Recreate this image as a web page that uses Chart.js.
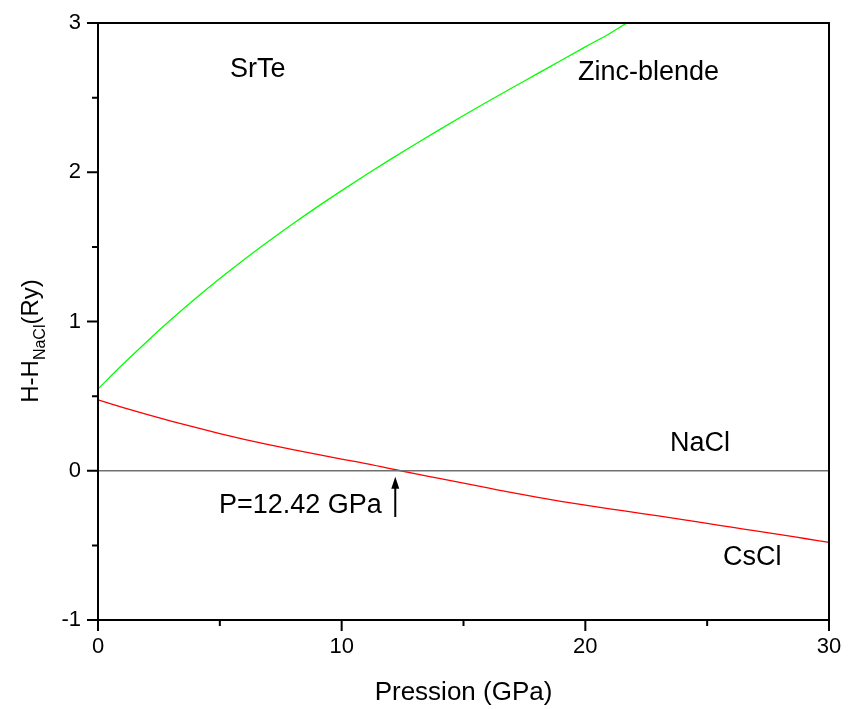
<!DOCTYPE html>
<html>
<head>
<meta charset="utf-8">
<script src="https://cdn.jsdelivr.net/npm/chart.js@4/dist/chart.umd.min.js"></script>
<style>
  html, body { margin: 0; padding: 0; background: #fff; }
  #wrap { width: 848px; height: 709px; }
</style>
</head>
<body>
<div id="wrap"><canvas id="chart" width="848" height="709"></canvas></div>
<script>
// data
const zbPress = [0, 1, 2, 3, 4, 5, 6, 7, 8, 9, 10, 11, 12, 13, 14, 15, 16, 17, 18, 19, 20, 21, 21.7];
const zbDelta = [0.548, 0.71, 0.865, 1.013, 1.154, 1.288, 1.416, 1.538, 1.655, 1.768, 1.877, 1.983, 2.086, 2.186, 2.284, 2.38, 2.474, 2.566, 2.657, 2.749, 2.84, 2.93, 3.0];

const cscPress = [0, 1, 2, 3, 4, 5, 6, 7, 8, 9, 10, 11, 12, 12.42, 13, 14, 15, 16, 17, 18, 19, 20, 21, 22, 23, 24, 25, 26, 27, 28, 29, 30];
const cscDelta = [0.475, 0.425, 0.378, 0.333, 0.29, 0.249, 0.211, 0.175, 0.141, 0.109, 0.078, 0.048, 0.014, 0, -0.019, -0.051, -0.083, -0.115, -0.147, -0.177, -0.205, -0.23, -0.255, -0.279, -0.303, -0.328, -0.353, -0.378, -0.403, -0.428, -0.454, -0.48];

const naclPress = [0, 30];
const naclDelta = [0, 0];

const xMajor = [0, 10, 20, 30];
const xMinor = [5, 15, 25];
const yMajor = [-1, 0, 1, 2, 3];
const yMinor = [-0.5, 0.5, 1.5, 2.5];

// text labels in data coordinates (anchor, vertical middle)
const notes = [
  { text: "SrTe", x: 5.42, y: 2.685, align: "left" },
  { text: "Zinc-blende", x: 19.7, y: 2.67, align: "left" },
  { text: "NaCl", x: 23.47, y: 0.18, align: "left" },
  { text: "P=12.42 GPa", x: 11.65, y: -0.236, align: "right" },
  { text: "CsCl", x: 25.65, y: -0.58, align: "left" }
];
const arrowX = [12.2, 12.2];
const arrowY = [-0.31, -0.04];

const FONT = "'Liberation Sans', Arial, sans-serif";

function pts(xs, ys) {
  return xs.map((x, i) => ({ x: x, y: ys[i] }));
}

const decor = {
  id: "decor",
  afterDraw(chart) {
    const ctx = chart.ctx;
    const xs = chart.scales.x, ys = chart.scales.y;
    const a = chart.chartArea;
    ctx.save();
    ctx.strokeStyle = "#000";
    ctx.lineWidth = 2;
    ctx.strokeRect(a.left, a.top, a.right - a.left, a.bottom - a.top);

    // ticks, outward
    ctx.beginPath();
    xMajor.forEach((v) => {
      const p = xs.getPixelForValue(v);
      ctx.moveTo(p, a.bottom); ctx.lineTo(p, a.bottom + 11);
    });
    xMinor.forEach((v) => {
      const p = xs.getPixelForValue(v);
      ctx.moveTo(p, a.bottom); ctx.lineTo(p, a.bottom + 6);
    });
    yMajor.forEach((v) => {
      const p = ys.getPixelForValue(v);
      ctx.moveTo(a.left, p); ctx.lineTo(a.left - 11, p);
    });
    yMinor.forEach((v) => {
      const p = ys.getPixelForValue(v);
      ctx.moveTo(a.left, p); ctx.lineTo(a.left - 6, p);
    });
    ctx.stroke();

    // notes
    ctx.fillStyle = "#000";
    ctx.font = "27px " + FONT;
    ctx.textBaseline = "middle";
    notes.forEach((n) => {
      ctx.textAlign = n.align;
      ctx.fillText(n.text, xs.getPixelForValue(n.x), ys.getPixelForValue(n.y));
    });

    // arrow
    const ax = xs.getPixelForValue(arrowX[0]);
    const y0 = ys.getPixelForValue(arrowY[0]);
    const y1 = ys.getPixelForValue(arrowY[1]);
    ctx.lineWidth = 2;
    ctx.beginPath();
    ctx.moveTo(ax, y0); ctx.lineTo(ax, y1 + 8);
    ctx.stroke();
    ctx.beginPath();
    ctx.moveTo(ax, y1);
    ctx.lineTo(ax - 4, y1 + 12);
    ctx.lineTo(ax + 4, y1 + 12);
    ctx.closePath();
    ctx.fill();

    // x title
    ctx.font = "26px " + FONT;
    ctx.textAlign = "center";
    ctx.textBaseline = "alphabetic";
    ctx.fillText("Pression (GPa)", (a.left + a.right) / 2, 700);

    // y title with subscript
    ctx.translate(38, 341);
    ctx.rotate(-Math.PI / 2);
    const big = "24px " + FONT, small = "16px " + FONT;
    ctx.font = big; const w1 = ctx.measureText("H-H").width; const w3 = ctx.measureText("(Ry)").width;
    ctx.font = small; const w2 = ctx.measureText("NaCl").width;
    let x = -(w1 + w2 + w3) / 2;
    ctx.textAlign = "left";
    ctx.font = big; ctx.fillText("H-H", x, 0); x += w1;
    ctx.font = small; ctx.fillText("NaCl", x, 7); x += w2;
    ctx.font = big; ctx.fillText("(Ry)", x, 0);
    ctx.restore();
  }
};

new Chart(document.getElementById("chart"), {
  type: "line",
  data: {
    datasets: [
      { data: pts(naclPress, naclDelta), borderColor: "#707070", borderWidth: 1.5 },
      { data: pts(cscPress, cscDelta), borderColor: "#ff0000", borderWidth: 1.3, cubicInterpolationMode: "monotone" },
      { data: pts(zbPress, zbDelta), borderColor: "#00ff00", borderWidth: 1.3, cubicInterpolationMode: "monotone" }
    ]
  },
  options: {
    responsive: false,
    animation: false,
    elements: { point: { radius: 0 } },
    layout: { padding: { left: 0, right: 19, top: 23, bottom: 0 } },
    plugins: { legend: { display: false }, tooltip: { enabled: false } },
    scales: {
      x: {
        type: "linear", min: 0, max: 30,
        grid: { display: false, drawTicks: false },
        border: { display: false },
        ticks: { stepSize: 10, padding: 14, color: "#000", font: { family: FONT, size: 22 }, maxRotation: 0 },
        afterFit(s) { s.height = 89; s.paddingLeft = 0; s.paddingRight = 0; }
      },
      y: {
        type: "linear", min: -1, max: 3,
        grid: { display: false, drawTicks: false },
        border: { display: false },
        ticks: { stepSize: 1, padding: 17, color: "#000", font: { family: FONT, size: 22 } },
        afterFit(s) { s.width = 98; s.paddingTop = 0; s.paddingBottom = 0; }
      }
    }
  },
  plugins: [decor]
});
</script>
</body>
</html>
